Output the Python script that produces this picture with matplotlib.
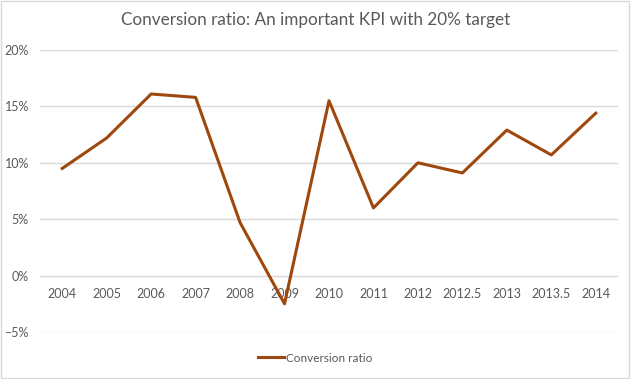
import matplotlib
matplotlib.use("Agg")
import matplotlib.pyplot as plt
from matplotlib.ticker import PercentFormatter
from matplotlib.patches import Rectangle

plt.rcParams["font.family"] = ["Lato", "DejaVu Sans"]

years = ["2004", "2005", "2006", "2007", "2008", "2009", "2010",
         "2011", "2012", "2012.5", "2013", "2013.5", "2014"]
ratio = [0.095, 0.122, 0.161, 0.158, 0.047, -0.025, 0.155,
         0.060, 0.100, 0.091, 0.129, 0.107, 0.144]
y_ticks = [-0.05, 0.0, 0.05, 0.10, 0.15, 0.20]

TEXT = "#595959"
GRID = "#D9D9D9"
LINE = "#9E480E"

fig = plt.figure(figsize=(6.31, 3.79), dpi=100)
ax = fig.add_axes([40 / 631, 1 - 332 / 379, 578 / 631, 282 / 379])

x = range(len(years))
ax.plot(x, ratio, color=LINE, linewidth=2.2, label="Conversion ratio",
        solid_joinstyle="round")

ax.set_xlim(-0.5, len(years) - 0.5)
ax.set_ylim(-0.05, 0.20)
ax.set_yticks(y_ticks)
ax.yaxis.set_major_formatter(PercentFormatter(1.0, decimals=0))
ax.set_xticks(list(x))
ax.set_xticklabels(years)
ax.spines["bottom"].set_position(("data", 0))
for s in ["top", "right", "left", "bottom"]:
    ax.spines[s].set_visible(False)
ax.tick_params(axis="both", length=0, colors=TEXT, labelsize=9)
ax.tick_params(axis="x", pad=9)
ax.tick_params(axis="y", pad=8)
ax.grid(axis="y", color=GRID, linewidth=1)
ax.set_axisbelow(True)

fig.text(0.5, 1 - 20 / 379, "Conversion ratio: An important KPI with 20% target",
         ha="center", va="center", fontsize=12.3, color=TEXT)

fig.legend(loc="center", bbox_to_anchor=(0.5, 1 - 358 / 379), frameon=False,
           fontsize=8.5, labelcolor=TEXT, handlelength=2.2, handletextpad=0.2)

fig.patches.append(Rectangle((0.002, 0.003), 0.995, 0.994, transform=fig.transFigure,
                             fill=False, edgecolor=GRID, linewidth=1))

fig.savefig("out.png", dpi=100)
